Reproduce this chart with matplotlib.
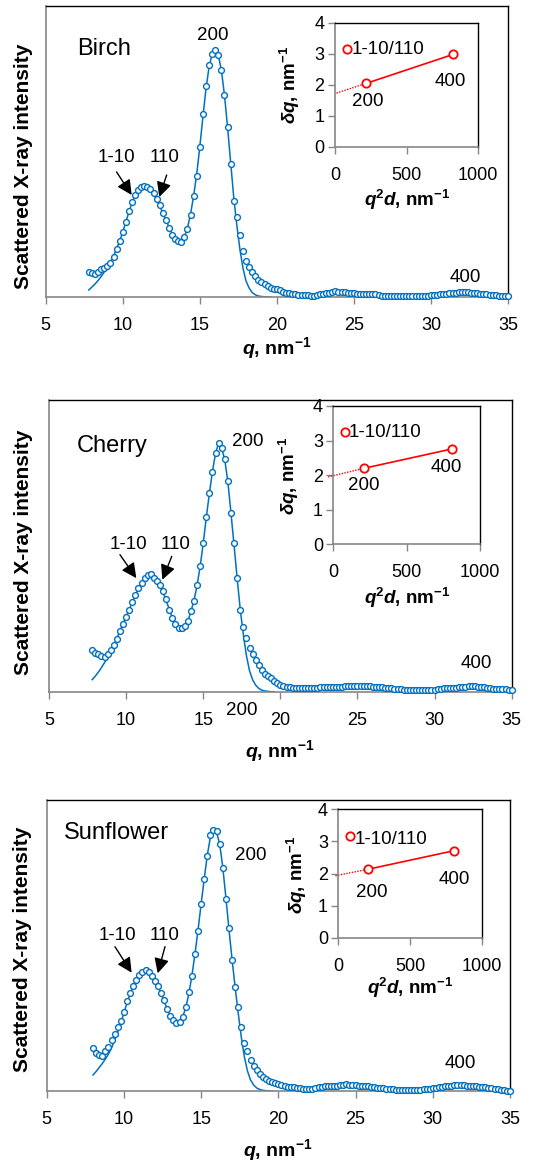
import matplotlib
matplotlib.use('Agg')
import matplotlib.pyplot as plt

plt.rcParams['font.family'] = ['Liberation Sans', 'DejaVu Sans']
plt.rcParams['mathtext.fontset'] = 'custom'
plt.rcParams['mathtext.rm'] = 'Liberation Sans'
plt.rcParams['mathtext.it'] = 'Liberation Sans:italic'
plt.rcParams['mathtext.bf'] = 'Liberation Sans:bold'
plt.rcParams['mathtext.bfit'] = 'Liberation Sans:bold:italic'

# ---------------- data ----------------
Q = [7.8, 8.0, 8.2, 8.4, 8.6, 8.8, 9.0, 9.2, 9.4, 9.6,
     9.8, 10.0, 10.2, 10.4, 10.6, 10.8, 11.0, 11.2, 11.4, 11.6,
     11.8, 12.0, 12.2, 12.4, 12.6, 12.8, 13.0, 13.2, 13.4, 13.6,
     13.8, 14.0, 14.2, 14.4, 14.6, 14.8, 15.0, 15.2, 15.4, 15.6,
     15.8, 16.0, 16.2, 16.4, 16.6, 16.8, 17.0, 17.2, 17.4, 17.6,
     17.8, 18.0, 18.2, 18.4, 18.6, 18.8, 19.0, 19.2, 19.4, 19.6,
     19.8, 20.0, 20.2, 20.4, 20.6, 20.8, 21.0, 21.2, 21.4, 21.6,
     21.8, 22.0, 22.2, 22.4, 22.6, 22.8, 23.0, 23.2, 23.4, 23.6,
     23.8, 24.0, 24.2, 24.4, 24.6, 24.8, 25.0, 25.2, 25.4, 25.6,
     25.8, 26.0, 26.2, 26.4, 26.6, 26.8, 27.0, 27.2, 27.4, 27.6,
     27.8, 28.0, 28.2, 28.4, 28.6, 28.8, 29.0, 29.2, 29.4, 29.6,
     29.8, 30.0, 30.2, 30.4, 30.6, 30.8, 31.0, 31.2, 31.4, 31.6,
     31.8, 32.0, 32.2, 32.4, 32.6, 32.8, 33.0, 33.2, 33.4, 33.6,
     33.8, 34.0, 34.2, 34.4, 34.6, 34.8, 35.0]

# measured intensity (arbitrary units)
birch_I = [25, 24.5, 23, 25, 28, 29.5, 31, 34, 40, 48,
           56, 65, 75, 86, 95, 102, 107, 110, 111, 110,
           108, 104, 98, 92, 84, 77, 69, 62, 58, 56,
           55, 60, 68, 82, 101, 121, 150, 183, 211, 232,
           243, 247, 242, 227, 202, 170, 133, 96, 80, 62,
           46, 36, 30, 25, 21, 17, 15, 13, 11, 9.5,
           8.5, 8, 6.7, 5.5, 4.5, 4, 3.5, 3, 2.5, 2.3,
           2, 2, 1.5, 1.5, 2.5, 3.3, 3.5, 4, 4.5, 5,
           6, 5.5, 5, 4.8, 4.5, 4, 4, 3.5, 3.3, 3.5,
           3.3, 3.5, 3, 2.7, 2.3, 1.5, 1.3, 1, 0.8, 0.8,
           1, 1, 1, 1, 1.2, 1.3, 1.3, 1.3, 1.5, 1.3,
           1.5, 1.7, 2, 2.5, 3, 3.3, 3.5, 4, 4, 4.5,
           5, 5, 4.8, 4.7, 4.5, 4.2, 4, 3.5, 3, 2.7,
           2.3, 2, 1.7, 1.5, 1.5, 1.3, 1.3]
birch_fit = [7, 10, 13, 16.5, 20.5, 25, 30, 35, 41, 48,
             56, 65, 75, 85, 94, 101, 107, 110, 111, 110,
             107, 103, 97, 91, 84, 77, 70, 63, 58, 56,
             56, 60, 69, 83, 101, 123, 150, 180, 208, 230,
             243, 247, 242, 227, 202, 170, 135, 100, 72, 48,
             29, 16, 9, 4.5, 2.2, 1, 0.5, 0.2, 0, 0]

cherry_I = [42, 39, 37.5, 36, 35, 37.5, 42, 47, 53, 61,
            68, 75, 82, 89, 96, 103, 108, 113, 116, 117,
            113, 110, 106, 100, 92, 82, 74, 68, 64, 64,
            66, 71, 81, 90, 106, 125, 148, 174, 198, 219,
            238, 248, 243, 232, 210, 178, 148, 113, 82, 65,
            54, 44, 38, 32, 27, 22, 18, 16, 14, 11,
            9, 6.5, 5.5, 5, 4.5, 4, 4, 4, 3.7, 3.7,
            3.5, 3.5, 4, 4, 4.3, 4.5, 4.5, 4.5, 4.5, 4.7,
            5, 5, 5.2, 5.3, 5.3, 5.2, 5.3, 5.5, 5.7, 5.7,
            5.5, 5, 4.7, 4.5, 4.2, 4, 3.7, 3.3, 3, 2.7,
            2.3, 2, 1.8, 1.7, 1.5, 1.5, 1.5, 1.5, 1.5, 1.7,
            1.7, 2, 2.5, 3, 3.2, 3.3, 3.5, 3.7, 4, 4.3,
            4.7, 5, 5.3, 5.5, 5.3, 5, 4.7, 4.3, 4, 3.5,
            3, 2.7, 2.5, 2.3, 2.2, 2, 2]
cherry_fit = [12, 15.5, 19.5, 24, 29, 34, 40, 46, 53, 61,
              68, 75, 82, 89, 96, 103, 108, 113, 116, 116,
              114, 110, 105, 99, 91, 82, 74, 68, 64, 63,
              65, 70, 80, 91, 106, 125, 148, 174, 198, 220,
              238, 248, 243, 231, 209, 178, 146, 113, 82, 57,
              36, 21, 12, 6.5, 3.3, 1.5, 0.7, 0.3, 0, 0]

# sunflower starts at q = 8.0
sunflower_I = [43, 38, 36, 35.5, 40, 44.5, 51, 57, 64,
               70.5, 79, 90, 98, 105, 111, 116, 119, 121, 119,
               115, 110, 105, 98, 91, 82, 75, 71, 68, 69.5,
               74, 84, 99, 115, 137, 160, 187, 212, 235, 256,
               261, 260, 247, 223, 192, 163, 131, 104, 84, 64,
               48, 40, 31, 25.5, 21, 17, 14.5, 12, 10.5, 9,
               8, 7, 6, 5, 4.3, 4, 3.7, 3.2, 2.7, 2.3,
               1.8, 2, 2.5, 3.2, 4, 4.4, 4.6, 4.8, 5, 5,
               5.3, 5.8, 6.5, 7, 6.5, 6, 5.8, 5.5, 5.3, 5,
               4.8, 4.3, 3.8, 3.3, 3, 2.7, 2.3, 2, 1.7, 1.3,
               1, 1, 1, 1, 1, 1, 1, 1.3, 1.6, 2,
               2.3, 2.7, 3.2, 3.8, 4.3, 4.8, 5.2, 5.5, 5.8, 6,
               6, 5.8, 5.5, 5.2, 5, 4.6, 4.3, 4, 3.7, 3.3,
               2.8, 2.3, 1.8, 1.2, 0.8, 0.5, 0.3]
sunflower_fit = [16, 19.5, 23.5, 27.5, 32, 37, 43, 51, 59,
                 68, 78, 88, 97, 105, 111, 116, 119.5, 121, 120,
                 116, 111, 105, 98, 90, 82, 75, 70, 68, 69.5,
                 74, 83, 97, 115, 137, 161, 187, 212, 236, 254,
                 261, 259, 247, 224, 194, 162, 132, 104, 78, 54,
                 34, 20, 11, 6, 3, 1.5, 0.7, 0.3, 0, 0]

# inset: peak width vs q^2 d
inset_labels = ['1-10/110', '200', '400']
birch_q2d = [86, 216, 826]
birch_dq = [3.14, 2.04, 2.98]
birch_extrap = [(10, 1.73), (216, 2.04)]
cherry_q2d = [80, 211, 811]
cherry_dq = [3.26, 2.20, 2.76]
cherry_extrap = [(-35, 1.95), (211, 2.20)]
sunflower_q2d = [81, 205, 807]
sunflower_dq = [3.18, 2.13, 2.71]
sunflower_extrap = [(-20, 1.93), (205, 2.13)]

x_ticks = [5, 10, 15, 20, 25, 30, 35]
inset_xticks = [0, 500, 1000]
inset_yticks = [0, 1, 2, 3, 4]

# ---------------- layout / style ----------------
W, H, DPI = 548, 1165, 100
BLUE = '#0070C0'
RED = '#FF0000'
GRAY = '#868686'

fig = plt.figure(figsize=(W / DPI, H / DPI), dpi=DPI)


def rect(l, t, r, b):
    return [l / W, 1 - b / H, (r - l) / W, (b - t) / H]


def ftext(x, y, s, **kw):
    fig.text(x / W, 1 - y / H, s, **kw)


panels = [
    dict(name='Birch', q=Q, I=birch_I, fq=Q[:60], fit=birch_fit,
         main=(45.7, 6, 508, 297), inset=(335, 22.7, 478.3, 146.7),
         ylab=(23.3, 166), xlab=(276.7, 348), ixlab=(406.7, 200), iylab=(290, 85),
         name_pos=(7.03, 247.7), p200=(15.87, 262), p1=(9.6, 139), p2=(12.74, 139),
         a1=((9.6, 125), (10.58, 102)), a2=((12.85, 122), (12.37, 100)), p400=(32.24, 20),
         ix=birch_q2d, iy=birch_dq, iext=birch_extrap,
         ilab=[((116, 3.14), 'left'), ((226, 1.47), 'center'), ((802, 2.10), 'center')],
         extra=None),
    dict(name='Cherry', q=Q, I=cherry_I, fq=Q[:60], fit=cherry_fit,
         main=(49, 400, 511.7, 691.7), inset=(333.3, 406, 480, 544.3),
         ylab=(24, 552.5), xlab=(280, 750.7), ixlab=(406.7, 598.3), iylab=(289, 475.7),
         name_pos=(6.82, 245), p200=(17.86, 250), p1=(10.14, 146.7), p2=(13.21, 146.7),
         a1=((9.6, 136.7), (10.66, 113.3)), a2=((12.96, 135), (12.35, 111.7)), p400=(32.7, 27.7),
         ix=cherry_q2d, iy=cherry_dq, iext=cherry_extrap,
         ilab=[((102, 3.23), 'left'), ((205, 1.69), 'center'), ((772, 2.23), 'center')],
         extra=(17.5, -19)),
    dict(name='Sunflower', q=Q[1:], I=sunflower_I, fq=Q[1:60], fit=sunflower_fit,
         main=(46.7, 800, 510, 1091), inset=(338.3, 809.3, 481.7, 937.7),
         ylab=(22.5, 949), xlab=(278, 1150), ixlab=(410, 988.3), iylab=(297.3, 875),
         name_pos=(6.12, 257.7), p200=(18.21, 235), p1=(9.55, 156), p2=(12.64, 156),
         a1=((9.42, 144.3), (10.5, 118.3)), a2=((12.66, 144.3), (12.19, 117.7)), p400=(31.81, 27.7),
         ix=sunflower_q2d, iy=sunflower_dq, iext=sunflower_extrap,
         ilab=[((116, 3.06), 'left'), ((233, 1.40), 'center'), ((807, 1.80), 'center')],
         extra=None),
]

TXT = 13.5
arrowprops = dict(arrowstyle='-|>,head_length=0.6,head_width=0.3', mutation_scale=15,
                  color='black', lw=1.0, shrinkA=0, shrinkB=0)


def style_spines(ax):
    for s in ('left', 'bottom'):
        ax.spines[s].set_color(GRAY)
        ax.spines[s].set_linewidth(1.2)
    for s in ('top', 'right'):
        ax.spines[s].set_color('black')
        ax.spines[s].set_linewidth(1.0)


XLAB = r'$\mathbfit{q}$, nm$^{\mathbf{-1}}$'
IXLAB = r'$\mathbfit{q}^{\mathbf{2}}\mathbfit{d}$, nm$^{\mathbf{-1}}$'
IYLAB = r'$\mathbfit{\delta q}$, nm$^{\mathbf{-1}}$'

for p in panels:
    ax = fig.add_axes(rect(*p['main']))
    ax.plot(p['fq'], p['fit'], color=BLUE, lw=1.1, zorder=2)
    ax.plot(p['q'], p['I'], ls='none', marker='o', ms=4.2, mfc='white', mec=BLUE,
            mew=1.0, zorder=3, clip_on=False)
    ax.set_xlim(5, 35)
    ax.set_ylim(0, 291)
    ax.set_xticks(x_ticks)
    ax.set_yticks([])
    ax.tick_params(axis='x', direction='out', length=5, width=1, color=GRAY,
                   labelsize=13, pad=9.5)
    style_spines(ax)

    ax.text(p['name_pos'][0], p['name_pos'][1], p['name'], fontsize=17, ha='left', va='center')
    ax.text(*p['p200'], '200', fontsize=TXT, ha='center', va='center')
    ax.text(*p['p1'], '1-10', fontsize=TXT, ha='center', va='center')
    ax.text(*p['p2'], '110', fontsize=TXT, ha='center', va='center')
    ax.text(*p['p400'], '400', fontsize=TXT, ha='center', va='center')
    if p['extra'] is not None:
        ax.text(*p['extra'], '200', fontsize=TXT, ha='center', va='center', clip_on=False)
    for tail, head in (p['a1'], p['a2']):
        ax.annotate('', xy=head, xytext=tail, arrowprops=arrowprops)

    ftext(*p['ylab'], 'Scattered X-ray intensity', fontsize=15, fontweight='bold',
          rotation=90, ha='center', va='center')
    ftext(*p['xlab'], XLAB, fontsize=14, fontweight='bold', ha='center', va='center')

    # inset
    ai = fig.add_axes(rect(*p['inset']))
    (x0, y0), (x1, y1) = p['iext']
    ai.plot([x0, x1], [y0, y1], color=RED, lw=1.0, ls=(0, (1, 1)), clip_on=False, zorder=2)
    ai.plot(p['ix'][1:], p['iy'][1:], color=RED, lw=1.2, zorder=2)
    ai.plot(p['ix'], p['iy'], ls='none', marker='o', ms=6, mfc='white', mec=RED,
            mew=1.3, zorder=3)
    ai.set_xlim(0, 1000)
    ai.set_ylim(0, 4)
    ai.set_xticks(inset_xticks)
    ai.set_yticks(inset_yticks)
    ai.tick_params(axis='x', direction='out', length=5, width=1, color=GRAY,
                   labelsize=13, pad=9.5)
    ai.tick_params(axis='y', direction='out', length=5, width=1, color=GRAY,
                   labelsize=13, pad=2.5)
    style_spines(ai)
    for ((tx, ty), ha), lab in zip(p['ilab'], inset_labels):
        ai.text(tx, ty, lab, fontsize=TXT, ha=ha, va='center')
    ftext(*p['ixlab'], IXLAB, fontsize=13.5, fontweight='bold', ha='center', va='center')
    ftext(*p['iylab'], IYLAB, fontsize=13.5, fontweight='bold',
          rotation=90, ha='center', va='center')

fig.savefig('out.png', dpi=DPI)
